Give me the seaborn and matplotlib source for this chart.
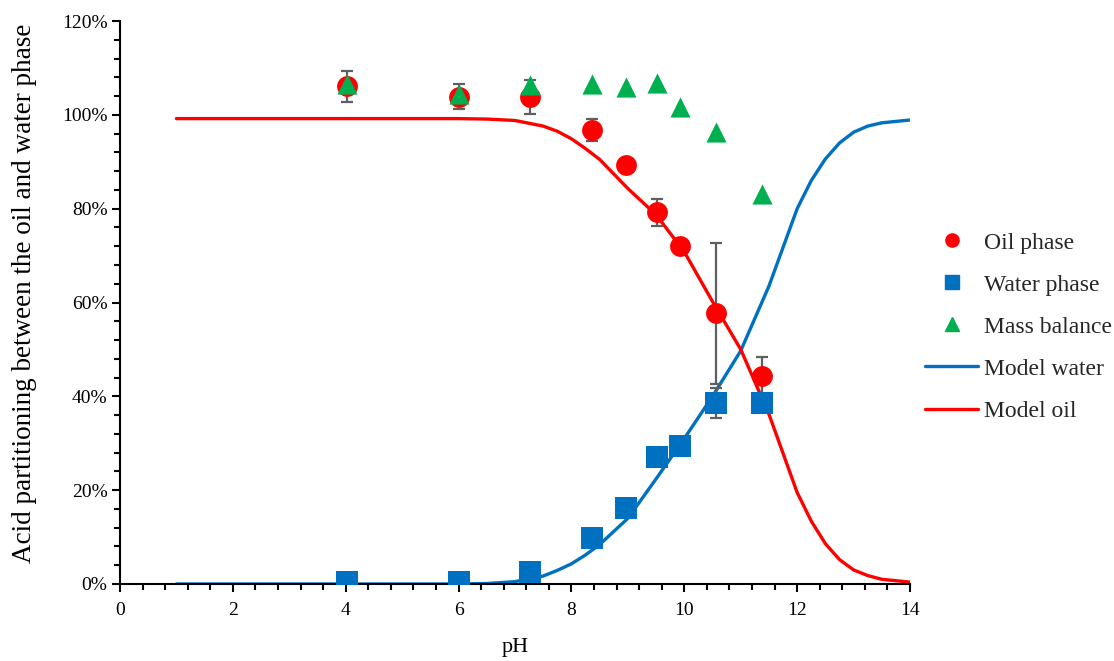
import matplotlib
matplotlib.use("Agg")
import matplotlib.pyplot as plt
from matplotlib.lines import Line2D
from matplotlib.ticker import MultipleLocator, FuncFormatter
import seaborn as sns

# measured points (percent)
ph_exp = [4.03, 6.0, 7.27, 8.37, 8.96, 9.51, 9.92, 10.56, 11.37]
oil_phase = [106.1, 103.9, 103.8, 96.8, 89.4, 79.2, 72.0, 57.7, 44.3]
oil_err = [3.3, 2.6, 3.6, 2.3, 1.0, 2.8, 1.0, 15.0, 4.0]
water_phase = [0.5, 0.5, 2.6, 9.8, 16.3, 27.0, 29.4, 38.5, 38.5]
water_err = [0.3, 0.3, 0.5, 1.0, 1.0, 1.0, 1.0, 3.2, 1.0]
mass_balance = [106.6, 104.4, 106.4, 106.6, 105.9, 106.7, 101.7, 96.3, 83.2]

# model curves
ph_model = [1, 2, 3, 4, 5, 6, 6.5, 7.0, 7.5, 7.75, 8.0, 8.25, 8.5, 9.0, 9.5,
            10.0, 10.5, 11.0, 11.5, 12.0, 12.25, 12.5, 12.75, 13.0, 13.25,
            13.5, 14.0]
model_water = [0.0, 0.0, 0.0, 0.0, 0.0, 0.0, 0.1, 0.5, 1.7, 2.9, 4.3, 6.2,
               8.4, 14.0, 22.4, 31.0, 40.0, 49.7, 63.5, 80.0, 86.0, 90.6,
               94.0, 96.3, 97.6, 98.3, 98.9]
model_oil = [99.2, 99.2, 99.2, 99.2, 99.2, 99.2, 99.1, 98.8, 97.6, 96.5,
             94.9, 92.8, 90.5, 84.3, 78.7, 70.8, 60.2, 50.0, 36.2, 19.5,
             13.4, 8.6, 5.2, 3.0, 1.8, 1.0, 0.4]

RED = "#FF0000"
BLUE = "#0070C0"
GREEN = "#00B050"
GREY = "#5F5F5F"

sns.set_theme(style="ticks")
plt.rcParams["font.family"] = ["Liberation Serif", "DejaVu Serif"]

fig = plt.figure(figsize=(11.14, 6.61), dpi=100)
ax = fig.add_axes([0.1077, 0.1165, 0.7092, 0.8517])

# model lines
sns.lineplot(x=ph_model, y=model_water, ax=ax, color=BLUE, linewidth=2.4,
             zorder=1)
sns.lineplot(x=ph_model, y=model_oil, ax=ax, color=RED, linewidth=2.4,
             zorder=1)

# error bars sit below the markers
ax.errorbar(ph_exp, oil_phase, yerr=oil_err, fmt="none", ecolor=GREY,
            elinewidth=1.6, capsize=4.5, capthick=1.6, zorder=2)
ax.errorbar(ph_exp, water_phase, yerr=water_err, fmt="none", ecolor=GREY,
            elinewidth=1.6, capsize=4.5, capthick=1.6, zorder=2)

sns.scatterplot(x=ph_exp, y=oil_phase, ax=ax, color=RED, marker="o",
                s=15 ** 2, linewidth=0, zorder=3)
sns.scatterplot(x=ph_exp, y=water_phase, ax=ax, color=BLUE, marker="s",
                s=15.5 ** 2, linewidth=0, zorder=4)
sns.scatterplot(x=ph_exp, y=mass_balance, ax=ax, color=GREEN, marker="^",
                s=14.5 ** 2, linewidth=0, zorder=5)

ax.set_xlim(0, 14)
ax.set_ylim(0, 120)
ax.xaxis.set_major_locator(MultipleLocator(2))
ax.xaxis.set_minor_locator(MultipleLocator(0.4))
ax.yaxis.set_major_locator(MultipleLocator(20))
ax.yaxis.set_minor_locator(MultipleLocator(4))
ax.yaxis.set_major_formatter(FuncFormatter(lambda v, p: f"{v:.0f}%"))

sns.despine(ax=ax)
for side in ["left", "bottom"]:
    ax.spines[side].set_color("black")
    ax.spines[side].set_linewidth(1.5)
ax.tick_params(which="major", direction="out", length=6, width=1.5,
               color="black", labelsize=14, labelcolor="black", pad=3)
ax.tick_params(which="minor", direction="out", length=4, width=1.5,
               color="black")
ax.tick_params(axis="x", which="major", pad=7)
ax.grid(False)

ax.set_xlabel("pH", fontsize=16, color="black", labelpad=14)
ax.set_ylabel("Acid partitioning between the oil and water phase",
              fontsize=19.5, color="black")
ax.yaxis.set_label_coords(-0.105, 0.517)

handles = [
    Line2D([], [], color=RED, marker="o", linestyle="none", markersize=9.5),
    Line2D([], [], color=BLUE, marker="s", linestyle="none", markersize=9.5),
    Line2D([], [], color=GREEN, marker="^", linestyle="none", markersize=9.5),
    Line2D([], [], color=BLUE, linewidth=2.4),
    Line2D([], [], color=RED, linewidth=2.4),
]
labels = ["Oil phase", "Water phase", "Mass balance", "Model water",
          "Model oil"]
fig.legend(handles, labels, loc="upper left",
           bbox_to_anchor=(925 / 1114, 1 - 232 / 661),
           bbox_transform=fig.transFigure, frameon=False, fontsize=17,
           handlelength=2.25, handletextpad=0.25, labelspacing=0.87,
           borderpad=0, borderaxespad=0)

fig.savefig("out.png", dpi=100)
